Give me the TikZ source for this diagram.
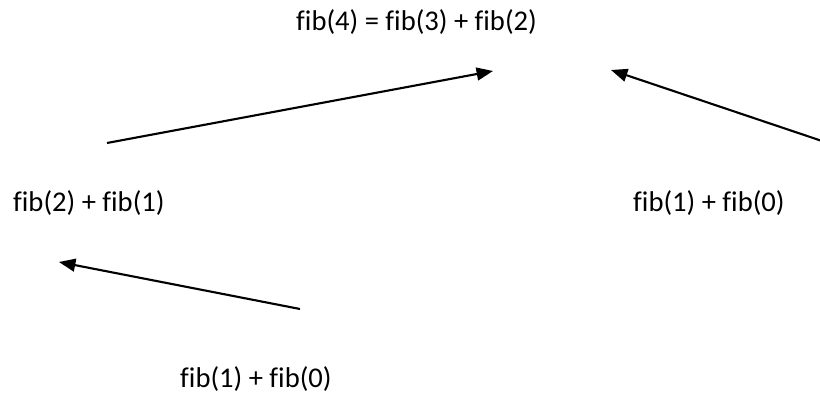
\documentclass[tikz,border=0pt]{standalone}
\usepackage{fontspec}
\setmainfont[Ligatures=NoCommon]{Carlito}
\usetikzlibrary{arrows.meta, positioning}
\definecolor{fbInk}{HTML}{000000}
\tikzset{
  term/.style={
    inner sep=0pt, anchor=base west, text=fbInk,
    font=\fontsize{24.4pt}{28pt}\selectfont
  },
  call/.style={-{Triangle[length=14pt, width=11pt]}, line width=1.8pt, draw=fbInk},
}
\begin{document}
\begin{tikzpicture}[x=0.03cm, y=-0.03cm]
  \useasboundingbox (0,0) rectangle (820,402);

  \node[term] (top)   at (296,31)  {fib(4) = fib(3) + fib(2)};
  \node[term] (left)  at (13,212)  {fib(2) + fib(1)};
  \node[term] (right) at (633,212) {fib(1) + fib(0)};
  \node[term] (low)   at (180,387) {fib(1) + fib(0)};

  \coordinate (a1) at (107,143);
  \coordinate (b1) at (493,71);
  \coordinate (a2) at (822,141);
  \coordinate (b2) at (611,70);
  \coordinate (a3) at (300,309);
  \coordinate (b3) at (59,262);

  \draw[call] (a1) -- (b1);
  \draw[call] (a2) -- (b2);
  \draw[call] (a3) -- (b3);
\end{tikzpicture}
\end{document}
